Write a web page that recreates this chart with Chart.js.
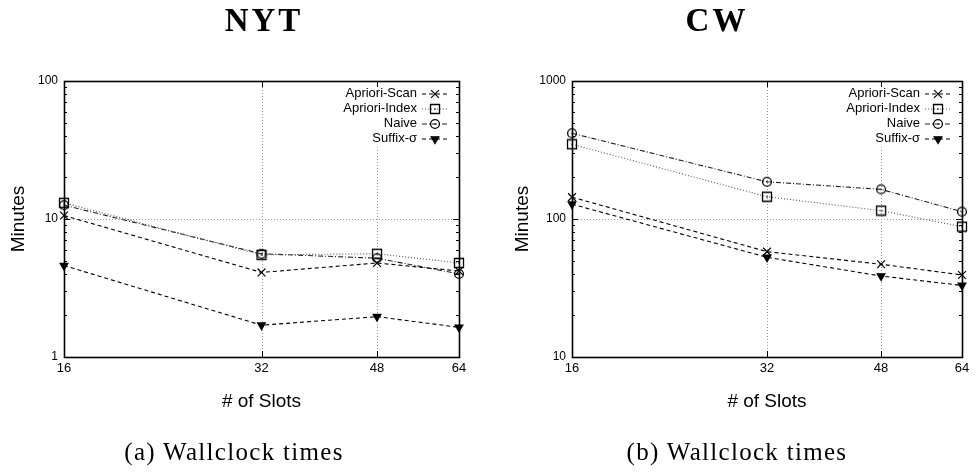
<!DOCTYPE html>
<html>
<head>
<meta charset="utf-8">
<script src="https://cdn.jsdelivr.net/npm/chart.js@4.4.0/dist/chart.umd.min.js"></script>
<style>
  body { margin: 0; background: #fff; width: 978px; height: 474px; overflow: hidden; position: relative; }
  .panel { position: absolute; top: 0; width: 489px; height: 474px; }
  .title { position: absolute; top: 4px; transform: translateX(-50%); font: bold 33px/33px 'Liberation Serif', serif; letter-spacing: 3px; white-space: nowrap; }
  .caption { position: absolute; top: 439px; transform: translateX(-50%); font: 25px/25px 'Liberation Serif', serif; letter-spacing: 1.3px; white-space: nowrap; }
</style>
</head>
<body>
<div class="panel" style="left:0"><canvas id="nytChart" width="489" height="474"></canvas></div>
<div class="panel" style="left:489px"><canvas id="cwChart" width="489" height="474"></canvas></div>
<div class="title" style="left:264px">NYT</div>
<div class="title" style="left:717px">CW</div>
<div class="caption" style="left:234px">(a) Wallclock times</div>
<div class="caption" style="left:737px">(b) Wallclock times</div>
<script>
'use strict';

const slots = [16, 32, 48, 64];
const seriesNames = ['Apriori-Scan', 'Apriori-Index', 'Naive', 'Suffix-σ'];

// NYT, minutes
const nytScan = [10.6, 4.1, 4.8, 4.2];
const nytIndex = [13.1, 5.5, 5.6, 4.8];
const nytNaive = [12.6, 5.6, 5.2, 4.0];
const nytSuffix = [4.6, 1.7, 1.96, 1.64];
const nytTicks = [1, 10, 100];

// CW, minutes
const cwScan = [144, 58, 47, 39.3];
const cwIndex = [348, 145, 115, 88];
const cwNaive = [418, 186, 164, 113];
const cwSuffix = [128, 52.8, 38.6, 33];
const cwTicks = [10, 100, 1000];

const sansFont = "'Liberation Sans', Arial, sans-serif";

// little marker images for the dotted square / dotted circle
function dotMarker(shape) {
  let c = document.createElement('canvas');
  c.width = 12;
  c.height = 12;
  let ctx = c.getContext('2d');
  ctx.strokeStyle = '#000';
  ctx.lineWidth = 1.3;
  ctx.beginPath();
  if (shape === 'circle') {
    ctx.arc(6, 6, 4.4, 0, Math.PI * 2);
  } else {
    ctx.rect(1.5, 1.5, 9, 9);
  }
  ctx.stroke();
  ctx.fillStyle = '#000';
  ctx.fillRect(5.4, 5.4, 1.3, 1.3);
  return c;
}

const squareDot = dotMarker('square');
const circleDot = dotMarker('circle');

// style of each series, same order as seriesNames
const seriesStyles = [
  { dash: [4, 3], color: '#000', pointStyle: 'crossRot', radius: 5.5, rotation: 0, fill: '#000' },
  { dash: [1, 2], color: '#555', pointStyle: squareDot, radius: 5, rotation: 0, fill: '#000' },
  { dash: [5, 2, 1, 2], color: '#222', pointStyle: circleDot, radius: 5, rotation: 0, fill: '#000' },
  { dash: [4, 3], color: '#000', pointStyle: 'triangle', radius: 4.5, rotation: 180, fill: '#000' }
];

function line(ctx, x1, y1, x2, y2) {
  ctx.beginPath();
  ctx.moveTo(x1, y1);
  ctx.lineTo(x2, y2);
  ctx.stroke();
}

// gnuplot look: dotted grid, framed box with inward ticks, boxed key
const gnuplotPlugin = {
  id: 'gnuplot',
  beforeDatasetsDraw(chart) {
    const { ctx, chartArea: a, scales: { x, y } } = chart;
    ctx.save();
    ctx.strokeStyle = '#999';
    ctx.lineWidth = 1;
    ctx.setLineDash([1, 2]);
    x.ticks.forEach(t => {
      let px = Math.round(x.getPixelForValue(t.value)) + 0.5;
      if (px > a.left + 2 && px < a.right - 2) line(ctx, px, a.top, px, a.bottom);
    });
    y.ticks.forEach(t => {
      let py = Math.round(y.getPixelForValue(t.value)) + 0.5;
      if (py > a.top + 2 && py < a.bottom - 2) line(ctx, a.left, py, a.right, py);
    });
    ctx.restore();
  },
  afterDatasetsDraw(chart) {
    const { ctx, chartArea: a, scales: { x, y } } = chart;
    ctx.save();

    // key
    const right = a.right;
    const rowY = [a.top + 12.5, a.top + 27.5, a.top + 42.5, a.top + 57.5];
    ctx.font = '13px ' + sansFont;
    let widest = 0;
    chart.data.datasets.forEach(ds => { widest = Math.max(widest, ctx.measureText(ds.label).width); });
    ctx.fillStyle = '#fff';
    ctx.fillRect(right - 42 - widest - 3, a.top + 1, widest + 44, rowY[3] - a.top + 8);
    chart.data.datasets.forEach((ds, i) => {
      const st = seriesStyles[i];
      ctx.fillStyle = '#000';
      ctx.textAlign = 'right';
      ctx.textBaseline = 'middle';
      ctx.fillText(ds.label, right - 42, rowY[i]);
      ctx.strokeStyle = st.color;
      ctx.lineWidth = 1.1;
      ctx.setLineDash(st.dash);
      line(ctx, right - 37, rowY[i] + 0.5, right - 11, rowY[i] + 0.5);
      ctx.setLineDash([]);
      ctx.strokeStyle = '#000';
      ctx.lineWidth = 1.2;
      ctx.fillStyle = st.fill;
      Chart.helpers.drawPoint(ctx, {
        pointStyle: st.pointStyle, radius: st.radius, rotation: st.rotation, borderWidth: 1.2
      }, right - 24, rowY[i] + 0.5);
    });

    // inward ticks
    ctx.setLineDash([]);
    ctx.strokeStyle = '#000';
    ctx.lineWidth = 1;
    const lo = y.min, hi = y.max;
    for (let d = lo; d < hi; d *= 10) {
      for (let m = 1; m < 10; m++) {
        let v = d * m;
        let py = Math.round(y.getPixelForValue(v)) + 0.5;
        let len = m === 1 ? 6 : 3;
        line(ctx, a.left, py, a.left + len, py);
        line(ctx, a.right - len, py, a.right, py);
      }
    }
    x.ticks.forEach(t => {
      let px = Math.round(x.getPixelForValue(t.value)) + 0.5;
      line(ctx, px, a.bottom, px, a.bottom - 6);
      line(ctx, px, a.top, px, a.top + 6);
    });

    // frame
    ctx.lineWidth = 1.6;
    ctx.strokeRect(Math.round(a.left) + 0.5, Math.round(a.top) + 0.5,
      Math.round(a.right - a.left), Math.round(a.bottom - a.top));
    ctx.restore();
  }
};

function makeChart(canvasId, values, yTicks, yWidth, yTitlePad, rightPad) {
  const datasets = values.map((vals, i) => {
    const st = seriesStyles[i];
    return {
      label: seriesNames[i],
      data: slots.map((s, j) => ({ x: s, y: vals[j] })),
      borderColor: st.color,
      borderWidth: 1.1,
      borderDash: st.dash,
      pointStyle: st.pointStyle,
      pointRadius: st.radius,
      pointRotation: st.rotation,
      pointBorderColor: '#000',
      pointBackgroundColor: st.fill,
      pointBorderWidth: 1.2,
      tension: 0,
      clip: false
    };
  });

  return new Chart(document.getElementById(canvasId).getContext('2d'), {
    type: 'line',
    data: { datasets: datasets },
    options: {
      responsive: false,
      animation: false,
      events: [],
      layout: { padding: { top: 81, right: rightPad, bottom: 57, left: 0 } },
      plugins: { legend: { display: false }, tooltip: { enabled: false } },
      scales: {
        x: {
          type: 'logarithmic',
          min: slots[0],
          max: slots[slots.length - 1],
          afterBuildTicks: axis => { axis.ticks = slots.map(v => ({ value: v })); },
          afterFit: axis => { axis.height = 60; },
          grid: { display: false, drawTicks: false },
          border: { display: false },
          ticks: { color: '#000', font: { family: sansFont, size: 13 }, padding: 4, maxRotation: 0, autoSkip: false, callback: v => String(v) },
          title: { display: true, text: '# of Slots', color: '#000', font: { family: sansFont, size: 19 }, padding: { top: 0, bottom: 4 } }
        },
        y: {
          type: 'logarithmic',
          min: yTicks[0],
          max: yTicks[yTicks.length - 1],
          afterBuildTicks: axis => { axis.ticks = yTicks.map(v => ({ value: v })); },
          afterFit: axis => { axis.width = yWidth; },
          grid: { display: false, drawTicks: false },
          border: { display: false },
          ticks: { color: '#000', font: { family: sansFont, size: 12 }, padding: 6, autoSkip: false, callback: v => String(v) },
          title: { display: true, text: 'Minutes', color: '#000', font: { family: sansFont, size: 19 }, padding: { top: yTitlePad, bottom: 0 } }
        }
      }
    },
    plugins: [gnuplotPlugin]
  });
}

makeChart('nytChart', [nytScan, nytIndex, nytNaive, nytSuffix], nytTicks, 64, 7, 30);
makeChart('cwChart', [cwScan, cwIndex, cwNaive, cwSuffix], cwTicks, 83, 22, 16);
</script>
</body>
</html>
